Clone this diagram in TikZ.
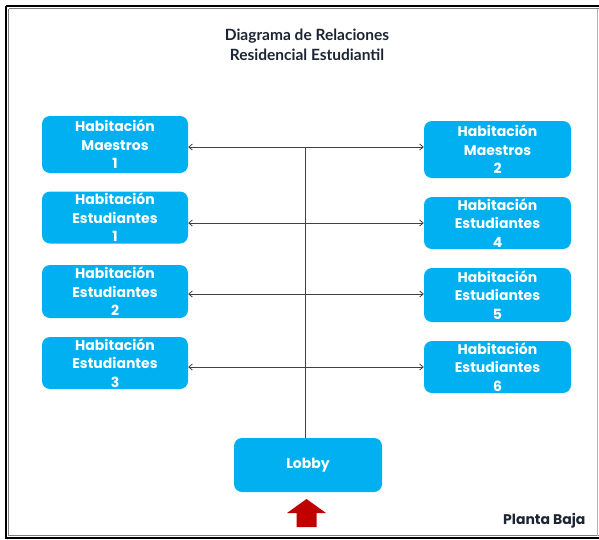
\documentclass[tikz,border=0pt]{standalone}
\usepackage{fontspec}
\setmainfont{Lato}
\newfontfamily\boxfont{Poppins}
\usetikzlibrary{arrows.meta}
\definecolor{boxblue}{HTML}{00B0F0}
\definecolor{titlenavy}{HTML}{1C2533}
\definecolor{arrowred}{HTML}{C00000}
\definecolor{linegray}{HTML}{404040}
\begin{document}
\begin{tikzpicture}[x=1pt,y=-1pt,
  room/.style={draw=none,fill=boxblue,rounded corners=8pt,inner sep=0pt,
    text=white,align=center,font=\boxfont\bfseries\fontsize{14}{18.5}\selectfont},
  link/.style={draw=linegray,line width=0.8pt,{Straight Barb[length=3.5pt,width=6pt]}-{Straight Barb[length=3.5pt,width=6pt]}},
  trunk/.style={draw=linegray,line width=0.8pt}]
\useasboundingbox (0,0) rectangle (599,539);
% frame
\draw[black,line width=2.2pt] (6,6) -- (599,6);
\draw[black,line width=2.2pt] (6,6) -- (6,539);
\draw[gray,line width=1.4pt] (8.5,8.5) -- (599,8.5);
\draw[gray,line width=1.4pt] (8.5,8.5) -- (8.5,535.5);
\draw[gray,line width=1.4pt] (8.5,535.5) -- (599,535.5);
\draw[black,line width=1.2pt] (6,538) -- (599,538);
\draw[gray!60,line width=0.8pt] (597.5,8.5) -- (597.5,535.5);
% title
\node[font=\bfseries\fontsize{15.5}{20}\selectfont,text=titlenavy,align=center] (title) at (307,45)
  {Diagrama de Relaciones\\Residencial Estudiantil};
% rooms left
\node[room,minimum width=146pt,minimum height=57pt] (L1) at (115,144.5) {Habitación\\Maestros\\1};
\node[room,minimum width=146pt,minimum height=52pt] (L2) at (115,217.5) {Habitación\\Estudiantes\\1};
\node[room,minimum width=146pt,minimum height=53pt] (L3) at (115,291.5) {Habitación\\Estudiantes\\2};
\node[room,minimum width=146pt,minimum height=52pt] (L4) at (115,363) {Habitación\\Estudiantes\\3};
% rooms right
\node[room,minimum width=147pt,minimum height=57pt] (R1) at (497.5,149.5) {Habitación\\Maestros\\2};
\node[room,minimum width=147pt,minimum height=52pt] (R2) at (497.5,223) {Habitación\\Estudiantes\\4};
\node[room,minimum width=147pt,minimum height=54pt] (R3) at (497.5,295) {Habitación\\Estudiantes\\5};
\node[room,minimum width=147pt,minimum height=52pt] (R4) at (497.5,367) {Habitación\\Estudiantes\\6};
% lobby
\node[room,minimum width=148pt,minimum height=54pt] (lobby) at (308,465) {Lobby};
% junctions on the trunk
\coordinate (h1) at (305,147);
\coordinate (h2) at (305,223);
\coordinate (h3) at (305,294);
\coordinate (h4) at (305,367);
\draw[trunk] (h1) -- (h1 |- lobby.north);
\draw[link] (L1.east |- h1) -- (R1.west |- h1);
\draw[link] (L2.east |- h2) -- (R2.west |- h2);
\draw[link] (L3.east |- h3) -- (R3.west |- h3);
\draw[link] (L4.east |- h4) -- (R4.west |- h4);
% entrance arrow
\fill[arrowred] (306.5,499) -- (326,513) -- (316.5,513) -- (316.5,527) -- (296.5,527) -- (296.5,513) -- (287,513) -- cycle;
% floor label
\node[font=\boxfont\bfseries\fontsize{14}{16}\selectfont,text=titlenavy,anchor=east] (floor) at (589,521) {Planta Baja};
\end{tikzpicture}
\end{document}
